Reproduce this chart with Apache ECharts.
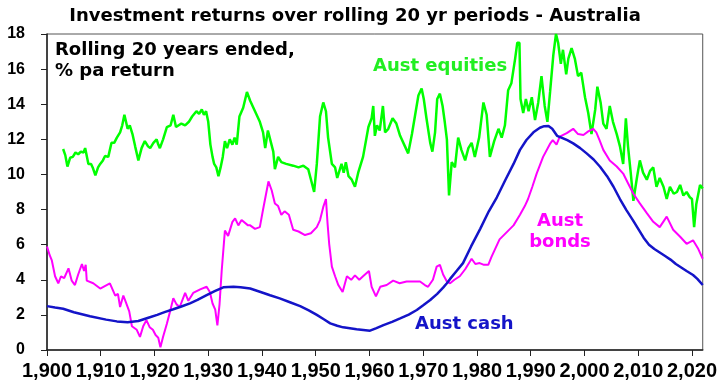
<!DOCTYPE html>
<html>
<head>
<meta charset="utf-8">
<script src="https://cdn.jsdelivr.net/npm/echarts@6/dist/echarts.min.js"></script>
<style>html,body{margin:0;padding:0;background:#fff}#c{width:720px;height:385px}</style>
</head>
<body>
<div id="c"></div>
<script>
// Rolling 20-year returns, % pa, [year, value]
var equities = [
[1903.0,11.45],[1903.4,11.1],[1903.8,10.45],[1904.3,10.95],[1904.8,11.0],[1905.3,11.25],[1905.8,11.15],[1906.3,11.3],[1906.8,11.25],[1907.1,11.5],
[1907.7,10.6],[1908.2,10.6],[1908.5,10.4],[1909.0,9.95],[1909.5,10.4],[1909.9,10.6],[1910.4,10.8],[1910.8,11.05],[1911.4,11.0],[1912.0,11.8],
[1912.5,11.8],[1913.0,12.1],[1913.6,12.4],[1914.0,12.8],[1914.4,13.4],[1914.7,13.0],[1915.0,12.6],[1915.4,12.8],[1915.9,12.3],[1916.4,11.6],
[1917.0,10.8],[1917.6,11.5],[1918.2,11.9],[1918.8,11.6],[1919.2,11.5],[1919.8,11.8],[1920.4,12.0],[1920.7,11.7],[1921.0,11.5],[1921.6,12.0],
[1922.3,12.7],[1923.0,12.8],[1923.5,13.4],[1924.0,12.7],[1924.5,12.8],[1925.0,12.9],[1925.7,12.8],[1926.4,13.0],[1927.0,13.3],[1927.8,13.6],
[1928.3,13.45],[1928.8,13.7],[1929.2,13.4],[1929.6,13.6],[1930.0,13.0],[1930.4,11.7],[1930.8,11.0],[1931.1,10.6],[1931.5,10.4],[1931.9,9.9],
[1932.3,10.4],[1932.7,11.0],[1933.1,11.9],[1933.5,11.5],[1934.0,12.0],[1934.5,11.7],[1934.9,12.1],[1935.3,11.7],[1935.8,13.3],[1936.5,13.8],
[1937.2,14.7],[1937.8,14.2],[1938.7,13.6],[1939.6,13.0],[1940.2,12.4],[1940.6,11.5],[1941.1,12.5],[1941.6,11.9],[1942.1,11.3],[1942.4,10.3],
[1943.0,11.0],[1943.6,10.7],[1944.5,10.6],[1945.8,10.5],[1946.8,10.4],[1947.7,10.5],[1948.6,10.3],[1949.2,9.6],[1949.7,9.0],[1950.2,10.6],
[1950.8,13.3],[1951.4,14.1],[1951.9,13.6],[1952.3,12.1],[1953.0,10.6],[1953.6,10.4],[1954.0,9.8],[1954.8,10.6],[1955.2,10.1],[1955.6,10.7],
[1956.1,9.9],[1956.7,9.7],[1957.3,9.3],[1957.9,10.1],[1958.8,11.0],[1959.8,12.7],[1960.4,13.2],[1960.7,13.9],[1961.0,12.2],[1961.4,12.8],
[1961.9,12.5],[1962.5,13.9],[1962.9,12.4],[1963.5,12.6],[1964.3,13.2],[1965.0,12.9],[1965.7,12.2],[1966.6,11.6],[1967.2,11.2],[1967.9,12.3],
[1968.5,13.4],[1969.1,14.5],[1969.7,14.9],[1970.1,14.3],[1970.6,13.2],[1971.3,11.8],[1971.7,11.3],[1972.2,12.4],[1972.6,14.3],[1973.1,14.6],
[1973.6,13.9],[1974.0,13.0],[1974.4,12.0],[1974.8,8.8],[1975.3,10.7],[1975.9,10.4],[1976.5,12.1],[1977.1,11.4],[1977.8,10.8],[1978.4,11.5],
[1979.0,11.8],[1979.6,11.0],[1980.4,12.1],[1981.2,14.1],[1981.8,13.4],[1982.4,11.0],[1983.2,11.9],[1984.0,12.6],[1984.6,12.1],[1985.2,12.8],
[1985.8,14.8],[1986.4,15.2],[1987.1,16.6],[1987.5,17.5],[1987.9,17.5],[1988.1,14.3],[1988.6,13.5],[1989.1,14.3],[1989.6,13.6],[1990.2,14.4],
[1990.8,13.1],[1991.4,14.1],[1992.0,15.6],[1992.6,13.9],[1993.1,13.0],[1993.6,14.7],[1994.2,16.8],[1994.7,18.0],[1995.1,17.5],[1995.6,16.3],
[1996.0,17.1],[1996.6,15.7],[1997.0,16.6],[1997.6,17.2],[1998.2,16.6],[1998.8,15.6],[1999.4,15.8],[2000.1,14.4],[2000.7,13.5],[2001.3,12.3],
[2002.0,13.7],[2002.4,15.0],[2003.0,14.1],[2003.5,12.9],[2004.1,12.6],[2004.7,13.9],[2005.3,13.0],[2006.0,12.3],[2006.6,11.6],[2007.2,10.6],
[2007.7,13.2],[2008.1,11.6],[2008.6,10.1],[2009.1,8.5],[2009.7,9.7],[2010.3,10.8],[2010.9,10.1],[2011.6,9.7],[2012.2,10.2],[2012.8,10.4],
[2013.4,9.3],[2014.0,9.8],[2014.7,9.3],[2015.3,8.6],[2015.9,9.3],[2016.6,8.9],[2017.2,9.0],[2017.8,9.4],[2018.4,8.8],[2019.0,9.0],
[2019.6,8.7],[2020.0,8.6],[2020.4,7.0],[2020.8,8.3],[2021.5,9.4],[2022.0,9.2]
];
var bonds = [
[1900.0,5.9],[1900.5,5.4],[1900.9,5.1],[1901.5,4.2],[1902.1,3.8],[1902.6,4.2],[1903.2,4.1],[1904.0,4.65],[1904.6,3.95],[1905.2,3.7],
[1905.8,4.3],[1906.5,4.9],[1906.9,4.5],[1907.2,4.85],[1907.4,3.95],[1908.6,3.8],[1909.9,3.5],[1911.1,3.7],[1911.7,3.8],[1912.7,3.1],
[1913.2,3.2],[1913.6,2.45],[1914.2,3.1],[1914.7,2.7],[1915.3,2.2],[1915.8,1.35],[1916.7,1.15],[1917.3,0.75],[1917.9,1.35],[1918.5,1.7],
[1919.1,1.3],[1919.7,1.15],[1920.2,0.85],[1920.7,0.7],[1921.1,0.15],[1921.6,0.75],[1922.3,1.5],[1922.9,2.2],[1923.5,2.95],[1924.1,2.6],
[1924.7,2.45],[1925.7,3.25],[1926.3,2.8],[1927.2,3.25],[1928.5,3.45],[1929.7,3.6],[1930.3,3.3],[1930.8,2.65],[1931.3,2.3],[1931.7,1.4],
[1932.1,2.6],[1932.5,4.5],[1933.1,6.8],[1933.7,6.5],[1934.5,7.3],[1935.0,7.5],[1935.6,7.1],[1936.2,7.4],[1937.4,7.1],[1937.8,7.1],
[1938.7,6.9],[1939.6,7.0],[1940.2,8.0],[1941.2,9.6],[1941.8,9.1],[1942.4,8.35],[1943.0,8.2],[1943.6,7.7],[1944.2,7.9],[1945.0,7.7],
[1945.8,6.85],[1946.8,6.75],[1948.0,6.55],[1949.1,6.65],[1950.2,7.0],[1950.8,7.4],[1951.4,8.15],[1951.9,8.6],[1952.2,7.2],[1952.5,6.05],
[1953.0,4.75],[1953.6,4.2],[1954.2,3.7],[1955.0,3.3],[1955.8,4.2],[1956.6,4.0],[1957.3,4.25],[1958.1,4.0],[1958.8,4.2],[1959.9,4.5],
[1960.4,3.6],[1961.2,3.05],[1962.0,3.6],[1963.2,3.7],[1964.4,3.95],[1965.6,3.8],[1966.9,3.9],[1968.1,3.9],[1969.4,3.9],[1970.3,3.7],
[1970.9,3.6],[1971.8,4.0],[1972.5,4.75],[1973.1,4.85],[1973.7,4.3],[1974.4,3.9],[1975.0,3.8],[1975.8,4.0],[1976.8,4.2],[1977.8,4.6],
[1979.0,5.2],[1979.7,4.9],[1980.5,4.95],[1981.3,4.85],[1982.1,4.85],[1982.7,5.3],[1983.3,5.7],[1984.2,6.3],[1985.5,6.7],[1986.8,7.1],
[1988.0,7.7],[1988.9,8.2],[1989.5,8.6],[1990.3,9.3],[1991.1,10.05],[1992.3,11.0],[1993.6,11.75],[1994.1,11.95],[1994.8,11.7],[1995.4,12.15],
[1996.7,12.35],[1997.9,12.6],[1998.8,12.3],[1999.8,12.25],[2000.7,12.45],[2001.6,12.6],[2002.2,12.4],[2002.8,11.95],[2003.5,11.4],[2004.7,10.8],
[2006.0,10.45],[2007.2,10.05],[2008.1,9.5],[2009.1,8.9],[2010.3,8.35],[2011.6,7.8],[2012.8,7.3],[2014.0,7.0],[2015.3,7.6],[2016.5,6.85],
[2017.8,6.45],[2019.0,6.05],[2020.2,6.25],[2021.1,5.8],[2022.0,5.2]
];
var cash = [
[1900.0,2.5],[1901.5,2.42],[1903.0,2.35],[1905.0,2.15],[1908.0,1.92],[1911.0,1.73],[1913.0,1.63],[1915.0,1.58],[1917.0,1.65],[1919.0,1.85],
[1920.5,2.0],[1922.0,2.17],[1923.5,2.32],[1925.0,2.48],[1926.6,2.66],[1928.0,2.85],[1929.7,3.12],[1931.2,3.35],[1932.8,3.57],[1934.7,3.6],
[1936.0,3.58],[1937.8,3.5],[1939.6,3.32],[1941.5,3.12],[1943.3,2.94],[1945.2,2.72],[1947.1,2.5],[1948.7,2.26],[1950.2,2.0],[1951.5,1.75],
[1952.7,1.52],[1954.0,1.38],[1955.1,1.29],[1957.6,1.18],[1960.1,1.1],[1961.3,1.25],[1962.6,1.42],[1964.2,1.6],[1965.7,1.8],[1967.3,2.02],
[1968.8,2.28],[1970.0,2.55],[1971.3,2.85],[1972.6,3.2],[1973.7,3.55],[1974.4,3.8],[1975.0,4.05],[1976.2,4.5],[1977.4,4.95],[1978.9,5.9],
[1980.6,6.9],[1982.2,7.9],[1983.7,8.7],[1985.3,9.7],[1986.8,10.6],[1988.0,11.4],[1989.2,11.96],[1990.5,12.4],[1991.7,12.66],[1992.5,12.75],
[1993.3,12.76],[1994.0,12.6],[1994.9,12.2],[1995.7,12.1],[1996.8,11.95],[1997.9,11.77],[1999.2,11.5],[2000.4,11.2],[2001.7,10.85],[2002.9,10.44],
[2004.2,9.9],[2005.4,9.3],[2006.6,8.6],[2007.8,7.97],[2009.0,7.4],[2010.0,6.9],[2011.0,6.4],[2012.0,6.0],[2013.0,5.75],[2014.0,5.55],
[2015.0,5.35],[2016.0,5.15],[2017.0,4.9],[2018.0,4.7],[2019.0,4.5],[2020.2,4.27],[2021.0,4.05],[2022.0,3.7]
];
var titleText = 'Investment returns over rolling 20 yr periods - Australia';
var noteLines = ['Rolling 20 years ended,', '% pa return'];
var seriesLabels = {equities: 'Aust equities', bonds: 'Aust bonds', cash: 'Aust cash'};

var GREEN = '#00FF00', MAGENTA = '#FF00FF', BLUE = '#1414C8';
var TXT = 'DejaVu Sans';
var chart = echarts.init(document.getElementById('c'), null, {renderer: 'canvas'});
function label(text, x, y, color, align) {
  return {type: 'text', x: x, y: y, style: {text: text, fill: color, font: 'bold 18px "' + TXT + '"', textAlign: align || 'left', textVerticalAlign: 'middle'}};
}
chart.setOption({
  animation: false,
  backgroundColor: '#fff',
  grid: {left: 47, right: 16, top: 34, bottom: 35, show: true, borderColor: '#555', borderWidth: 1},
  xAxis: {
    type: 'value', min: 1900, max: 2022, interval: 10,
    axisLine: {show: true, lineStyle: {color: '#222', width: 1.5}},
    axisTick: {show: true, length: 6, lineStyle: {color: '#222', width: 1}},
    splitLine: {show: false},
    axisLabel: {showMaxLabel: false, color: '#000', fontFamily: 'Liberation Sans', fontWeight: 'bold', fontSize: 20, margin: 11}
  },
  yAxis: {
    type: 'value', min: 0, max: 18, interval: 2,
    axisLine: {show: true, lineStyle: {color: '#222', width: 1.5}},
    axisTick: {show: true, length: 6, lineStyle: {color: '#222', width: 1}},
    splitLine: {show: false},
    axisLabel: {color: '#000', fontFamily: 'Liberation Sans', fontWeight: 'bold', fontSize: 16, margin: 22}
  },
  series: [
    {type: 'line', name: seriesLabels.cash, data: cash, showSymbol: false, lineStyle: {color: BLUE, width: 2.5}, z: 3},
    {type: 'line', name: seriesLabels.bonds, data: bonds, showSymbol: false, lineStyle: {color: MAGENTA, width: 2}, z: 2},
    {type: 'line', name: seriesLabels.equities, data: equities, showSymbol: false, lineStyle: {color: GREEN, width: 2.5}, z: 1}
  ],
  graphic: [
    label(titleText, 355, 16, '#000', 'center'),
    label(noteLines[0], 55, 50, '#000'),
    label(noteLines[1], 55, 71, '#000'),
    label(seriesLabels.equities, 373, 66, '#22EE22'),
    label('Aust', 560, 221, MAGENTA, 'center'),
    label('bonds', 560, 242, MAGENTA, 'center'),
    label(seriesLabels.cash, 415, 324, BLUE)
  ]
});
</script>
</body>
</html>
